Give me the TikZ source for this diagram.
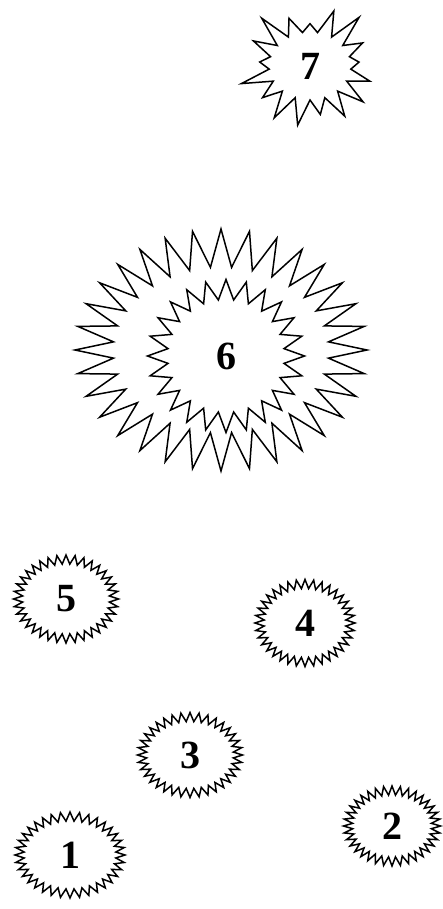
\documentclass[tikz,border=0pt]{standalone}
\usepackage{fontspec}
\setmainfont{Liberation Serif}
\usetikzlibrary{shapes.symbols}

\begin{document}
\begin{tikzpicture}[
  x=1pt, y=-1pt,
  font=\fontsize{40}{40}\selectfont\bfseries,
  burst/.style={starburst, draw=black, line width=1.5pt, fill=white, random starburst=0, inner sep=0pt},
  small/.style={burst, starburst points=36, starburst point height=9pt},
]
\useasboundingbox (0,0) rectangle (443,909);

% ---- the big one, two rings ----
\node[burst, starburst points=32, starburst point height=38pt, minimum width=292pt, minimum height=242pt] (ring6) at (221,350) {};
\node[burst, starburst points=24, starburst point height=20pt, minimum width=157pt, minimum height=153pt] (n6) at (226,356) {6};

% ---- the odd one at the top ----
\node[burst, random starburst=23, starburst points=17, starburst point height=32pt, minimum width=146pt, minimum height=132pt] (n7) at (310,66) {7};

% ---- small ones ----
\node[small, minimum width=105pt, minimum height=88pt] (n5) at (66,599) {5};
\node[small, minimum width=100pt, minimum height=87pt] (n4) at (305,623) {4};
\node[small, minimum width=105pt, minimum height=85pt] (n3) at (190,755) {3};
\node[small, minimum width=97pt, minimum height=80pt] (n2) at (392,826) {2};
\node[small, minimum width=110pt, minimum height=86pt] (n1) at (70,855) {1};

\end{tikzpicture}
\end{document}
